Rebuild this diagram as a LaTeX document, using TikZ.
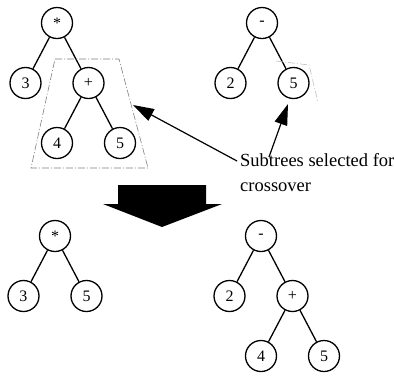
\documentclass[tikz,border=0pt]{standalone}
\usepackage{fontspec}
\setmainfont{Liberation Serif}
\usetikzlibrary{arrows.meta}

\begin{document}
\begin{tikzpicture}[
    x=1pt, y=-1pt,
    treenode/.style={circle, draw, line width=1.3pt, minimum size=31pt, inner sep=0pt, font=\fontsize{16}{16}\selectfont},
    every child node/.style={treenode},
    edge from parent/.style={draw, line width=1.3pt},
    level distance=60pt,
    sibling distance=63pt,
    pointer/.style={line width=1.2pt, -{Triangle[length=21pt, width=13pt]}},
    selection/.style={gray, line width=0.6pt, dash pattern=on 7pt off 2pt on 1pt off 2pt},
]
\useasboundingbox (0,0) rectangle (394,376);

\node[treenode] (pA) at (57,23) {\raisebox{-0.5ex}{*}}
    child {node (pA3) {3}}
    child {node (pAplus) {+}
        child {node (pA4) {4}}
        child {node (pA5) {5}}
    };
\node[treenode] (pB) at (262,23) {-}
    child {node (pB2) {2}}
    child {node (pB5) {5}};
\node[treenode] (cA) at (55,236) {\raisebox{-0.5ex}{*}}
    child {node (cA3) {3}}
    child {node (cA5) {5}};
\node[treenode] (cB) at (261,236) {-}
    child {node (cB2) {2}}
    child {node (cBplus) {+}
        child {node (cB4) {4}}
        child {node (cB5) {5}}
    };

\draw[selection] (55,59) -- (119,59) -- (148,168) -- (31,168) -- cycle;
\draw[selection, gray!50] (276,61) -- (309,65) -- (318,102);

\node[align=left, anchor=north west, inner sep=0pt, font=\fontsize{18.5}{25}\selectfont] (caption) at (240,153) {Subtrees selected for\\crossover};
\coordinate (tipA) at (133,105);
\coordinate (tipB) at (288,104);
\coordinate (tailA) at (237,161);
\coordinate (tailB) at (269,157);
\draw[pointer] (tailA) -- (tipA);
\draw[pointer] (tailB) -- (tipB);

\fill (118,185) -- (206,185) -- (206,204) -- (222,204) -- (162,227) -- (103,204) -- (118,204) -- cycle;
\end{tikzpicture}
\end{document}
